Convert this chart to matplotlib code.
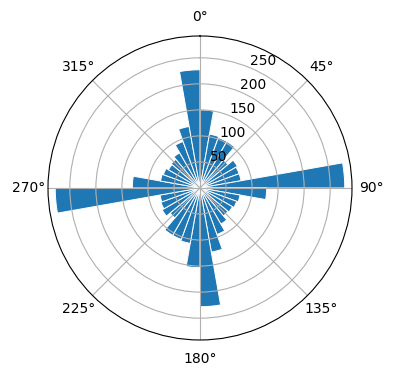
import numpy as np
import matplotlib
matplotlib.use("Agg")
import matplotlib.pyplot as plt

# Bin start angles (degrees, clockwise from North) and counts per 10° bin
bin_start_deg = list(range(0, 360, 10))
counts = [150, 105, 103, 103, 70, 83, 80, 80, 278,
          128, 78, 75, 72, 70, 80, 95, 125, 228,
          153, 108, 105, 105, 75, 84, 80, 78, 278,
          130, 77, 75, 70, 72, 78, 95, 120, 227]
bin_width_deg = 10

fig = plt.figure(figsize=(3.96, 3.80), dpi=100)
ax = fig.add_axes([0.1212, 0.1053, 0.7677, 0.8], projection="polar")
ax.set_theta_zero_location("N")
ax.set_theta_direction(-1)
ax.bar(np.deg2rad(bin_start_deg), counts, width=np.deg2rad(bin_width_deg),
       align="edge", color="#1f77b4", edgecolor="white", linewidth=0.7)
fig.savefig("out.png", dpi=100)
